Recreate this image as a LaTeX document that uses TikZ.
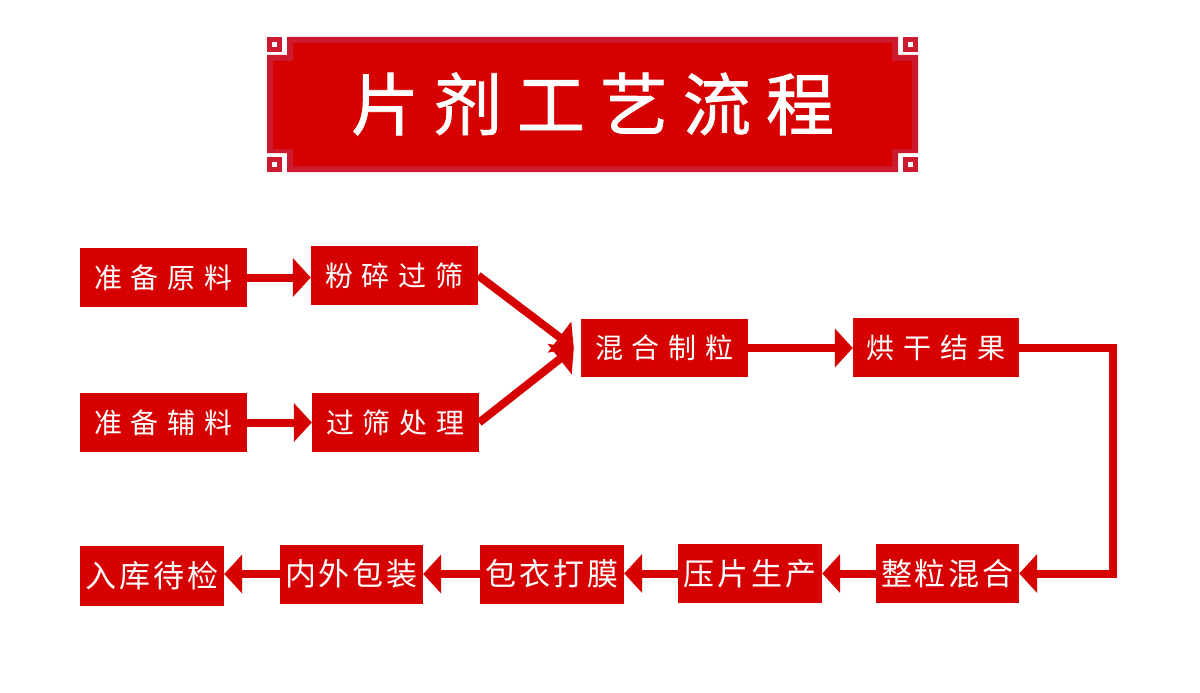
\documentclass[tikz,border=0pt]{standalone}
\usepackage{fontspec}
\newfontfamily\cjk{Noto Sans CJK SC}
\newfontfamily\cjktitle{Noto Sans CJK SC}[FakeBold=1.2]
\usetikzlibrary{arrows.meta}
\definecolor{boxred}{HTML}{D70000}
\definecolor{framecrimson}{HTML}{CC1A2E}
\newlength\cjkgap
\newcommand\cg{\hspace{\cjkgap}}
\tikzset{
  box/.style={fill=boxred, text=white, inner sep=0pt, minimum width=167pt, minimum height=59pt,
    font=\cjk\fontsize{28}{30}\selectfont\setlength\cjkgap{9pt}},
  lowbox/.style={fill=boxred, text=white, inner sep=0pt, minimum width=144pt, minimum height=59pt,
    font=\cjk\fontsize{31}{33}\selectfont\setlength\cjkgap{3pt}},
  flow/.style={draw=boxred, line width=8pt, line join=miter, -{Triangle[length=18pt,width=38pt]}},
  titletext/.style={text=white, inner sep=0pt, font=\cjktitle\fontsize{68}{70}\selectfont\setlength\cjkgap{15pt}},
}
\begin{document}
\begin{tikzpicture}[x=1pt,y=-1pt]
\useasboundingbox (0,0) rectangle (1200,693);
\fill[white] (0,0) rectangle (1200,693);
% title frame
\fill[framecrimson] (287,37) -- (898,37) -- (898,55) -- (918,55) -- (918,153) -- (898,153) -- (898,172)
  -- (287,172) -- (287,153) -- (267,153) -- (267,55) -- (287,55) -- cycle;
\fill[boxred] (273,61) -- (293,61) -- (293,43) -- (892,43) -- (892,61) -- (912,61) -- (912,149) -- (892,149)
  -- (892,166) -- (293,166) -- (293,149) -- (273,149) -- cycle;
\foreach \cx/\cy in {267/37, 903/37, 267/157, 903/157}{
  \fill[framecrimson] (\cx,\cy) rectangle ++(15,15);
  \fill[white] (\cx+5,\cy+5) rectangle ++(5,5);
}
\node[titletext] (title) at (592.5,104) {片\cg 剂\cg 工\cg 艺\cg 流\cg 程};
% nodes
\node[box] (a1) at (163.5,277.5) {准\cg 备\cg 原\cg 料};
\node[box] (a2) at (394.5,275.5) {粉\cg 碎\cg 过\cg 筛};
\node[box] (b1) at (163.5,422.5) {准\cg 备\cg 辅\cg 料};
\node[box] (b2) at (395.5,422.5) {过\cg 筛\cg 处\cg 理};
\node[box, minimum height=58pt] (c) at (664.5,348) {混\cg 合\cg 制\cg 粒};
\node[box, minimum width=166pt] (d) at (936,347.5) {烘\cg 干\cg 结\cg 果};
\node[lowbox, minimum width=143pt] (e) at (947.5,573.5) {整\cg 粒\cg 混\cg 合};
\node[lowbox] (f) at (750,573.5) {压\cg 片\cg 生\cg 产};
\node[lowbox] (g) at (552,574) {包\cg 衣\cg 打\cg 膜};
\node[lowbox, minimum width=143pt] (h) at (351.5,574) {内\cg 外\cg 包\cg 装};
\node[lowbox, minimum height=60pt] (i) at (152,576) {入\cg 库\cg 待\cg 检};
% connectors
\coordinate (cin) at ([xshift=-7pt]c.west);
\coordinate (rr) at (1112.5,0);
\draw[flow] (a1.east) -- (a1.east -| a2.west);
\draw[flow] (b1.east) -- (b1.east -| b2.west);
\draw[flow] (a2.east) -- (cin);
\draw[flow] (b2.east) -- (cin);
\draw[flow] (c.east) -- (c.east -| d.west);
\draw[flow] (d.east) -- (d.east -| rr) -- (e.east -| rr) -- (e.east);
\draw[flow] (e.west) -- (e.west -| f.east);
\draw[flow] (f.west) -- (f.west -| g.east);
\draw[flow] (g.west) -- (g.west -| h.east);
\draw[flow] (h.west) -- (h.west -| i.east);
\end{tikzpicture}
\end{document}
